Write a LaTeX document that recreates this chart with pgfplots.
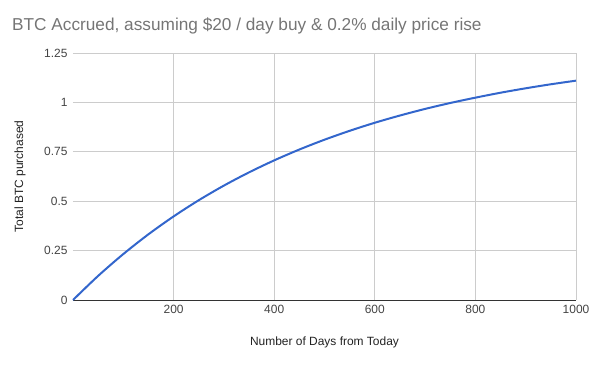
\documentclass[border=0pt]{standalone}
\usepackage{fontspec}
\setmainfont{Liberation Sans}
\usepackage{pgfplots}
\pgfplotsset{compat=1.18}
\definecolor{gline}{HTML}{3366CC}
\definecolor{ggrid}{HTML}{CCCCCC}
\definecolor{gtick}{HTML}{444444}
\definecolor{gtitle}{HTML}{757575}
\definecolor{glabel}{HTML}{222222}
\begin{document}
\begin{tikzpicture}
\path[use as bounding box] (-73bp,-65bp) rectangle (520bp,300bp);
\begin{axis}[
  at={(0,0)}, anchor=south west,
  scale only axis, width=503bp, height=247bp,
  xmin=0, xmax=1000, ymin=0, ymax=1.25,
  xtick={200,400,600,800,1000},
  ytick={0,0.25,0.5,0.75,1,1.25},
  yticklabels={0,0.25,0.5,0.75,1,1.25},
  xticklabels={200,400,600,800,1000},
  grid=major,
  major grid style={ggrid, line width=0.8bp},
  major tick length=0pt,
  axis line style={draw=none},
  tick label style={font=\fontsize{12}{14}\selectfont, text=gtick},
  /pgf/number format/assume math mode=true,
  yticklabel style={anchor=east, xshift=-2bp},
  xticklabel style={anchor=center, yshift=-9bp},
  xlabel={Number of Days from Today},
  ylabel={Total BTC purchased},
  every axis x label/.style={at={(rel axis cs:0.5,0)}, yshift=-42bp, anchor=center, font=\fontsize{12}{14}\selectfont, text=glabel},
  every axis y label/.style={at={(rel axis cs:0,0.5)}, xshift=-53bp, anchor=center, rotate=90, font=\fontsize{12}{14}\selectfont, text=glabel},
  clip=false,
]
\draw[color=black!80, line width=1bp] (axis cs:0,0) -- (axis cs:1000,0);
\addplot[gline, line width=2bp, smooth] coordinates {
(0,0) (50,0.1221) (100,0.2325) (150,0.3326) (200,0.4230) (250,0.5049)
(300,0.5790) (350,0.6460) (400,0.7066) (450,0.7615) (500,0.8112)
(550,0.8562) (600,0.8970) (650,0.9336) (700,0.9670) (750,0.9970)
(800,1.0240) (850,1.0490) (900,1.0714) (950,1.0917) (1000,1.1100)
};
\end{axis}
\node[anchor=base west, inner sep=0pt, text=gtitle, font=\fontsize{17.3}{20}\selectfont] at (-61bp,269bp) {BTC Accrued, assuming \$20 / day buy \& 0.2\% daily price rise};
\end{tikzpicture}
\end{document}
